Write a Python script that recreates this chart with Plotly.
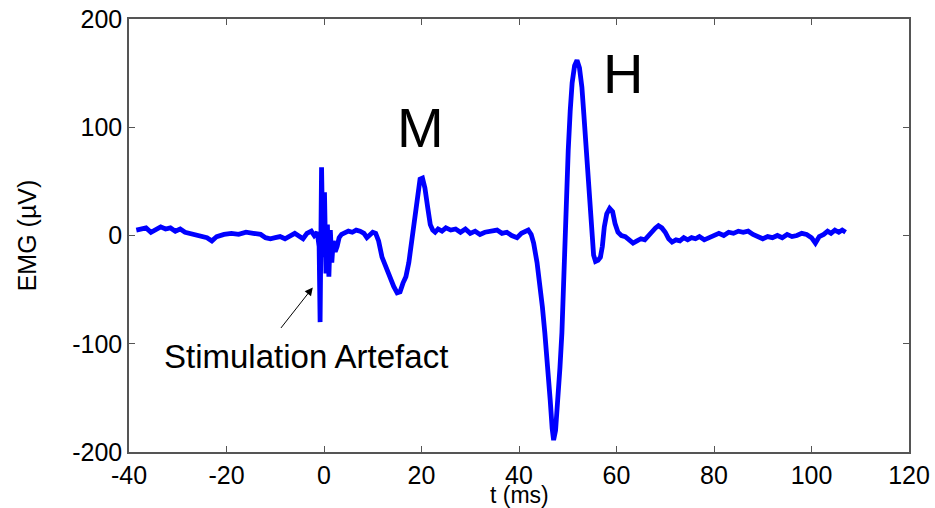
import plotly.graph_objects as go

# EMG trace (t in ms, EMG in microvolts)
t_ms = [-38.5, -37.5, -36.5, -35.5, -34.5, -33.5, -32.5, -31.5, -30.5, -29.5,
        -28.5, -27, -25.5, -24, -23, -22, -20.5, -19, -17.5, -16,
        -14.5, -13, -12, -11, -10, -9, -8, -7, -6, -5,
        -4.3, -3.5, -2.6, -2, -1.4, -1.0, -0.8, -0.5, -0.2, 0.1,
        0.4, 0.7, 1.0, 1.3, 1.6, 1.9, 2.3, 2.7, 3.1, 3.6,
        4.2, 5.0, 5.8, 6.6, 7.4, 8.2, 8.8, 9.4, 10.0, 10.6,
        11.2, 11.9, 12.7, 13.5, 14.3, 15.0, 15.6, 16.2, 16.8, 17.4,
        18.0, 18.6, 19.2, 19.7, 20.2, 20.7, 21.3, 21.8, 22.3, 22.8,
        23.4, 24.2, 25.0, 26, 27, 28, 29, 30, 31, 32,
        33, 34, 35.5, 36.5, 37.5, 38.5, 39.6, 40.5, 41.3, 41.9,
        42.5, 43.0, 43.7, 44.3, 44.8, 45.3, 45.9, 46.4, 46.8, 47.1,
        47.5, 48.0, 48.4, 48.8, 49.1, 49.4, 49.8, 50.1, 50.5, 50.9,
        51.4, 51.9, 52.4, 52.9, 53.3, 53.6, 54.0, 54.3, 54.7, 55.0,
        55.3, 55.7, 56.2, 56.7, 57.1, 57.5, 58.0, 58.6, 59.2, 59.7,
        60.3, 61.0, 61.8, 62.6, 63.4, 64.2, 65.0, 65.8, 66.5, 67.2,
        68.0, 68.6, 69.3, 70.0, 70.7, 71.4, 72.2, 73.0, 73.8, 74.6,
        75.4, 76.2, 77.0, 78.0, 79.0, 80.0, 81.0, 82.0, 83.0, 84.0,
        85.0, 86.0, 87.0, 88.0, 89.0, 90.0, 91.0, 92.0, 93.0, 94.0,
        95.0, 96.0, 97.0, 98.0, 99.0, 100.0, 100.8, 101.6, 102.5, 103.3,
        104.0, 104.8, 105.6, 106.3, 107.0]

emg_uv = [5, 6, 7, 3, 5, 8, 6, 7, 4, 6,
          3, 1, -1, -2, -5, -1, 1, 2, 1, 3,
          2, 1, -2, -3, -2, -1, -3, 0, 2, -1,
          -3, 2, 4, 0, 3, -10, -80, 63, -20, 40,
          -35, 10, -38, 5, -25, -5, -15, -10, -2, 1,
          2, 4, 3, 5, 4, 2, -2, 1, 3, 2,
          -5, -20, -30, -39, -47, -53, -52, -44, -38, -25,
          -5, 18, 40, 52, 53, 44, 25, 10, 5, 3,
          6, 4, 7, 5, 6, 3, 6, 2, 4, 1,
          3, 4, 5, 2, 3, 0, -2, 2, 4, 5,
          1, -7, -25, -44, -66, -90, -120, -152, -178, -189,
          -180, -152, -122, -90, -45, 2, 45, 79, 115, 141,
          157, 162, 155, 137, 112, 92, 65, 44, 15, -2,
          -18, -24, -23, -20, -10, 8, 20, 25, 22, 11,
          3, 0, -1, -4, -7, -5, -3, -4, 0, 4,
          7, 9, 7, 3, -3, -6, -4, -5, -2, -4,
          -2, -3, -1, -4, -2, 1, 2, 0, 3, 2,
          4, 3, 4, 1, -1, -3, -1, -2, 0, -2,
          1, -1, 0, 2, 1, -2, -7, -1, 1, 4,
          2, 5, 3, 5, 3]

x_ticks = [-40, -20, 0, 20, 40, 60, 80, 100, 120]
x_labels = ["-40", "-20", "0", "20", "40", "60", "80", "100", "120"]
y_ticks = [-200, -100, 0, 100, 200]
y_labels = ["-200", "-100", "0", "100", "200"]

fig = go.Figure()
fig.add_trace(go.Scatter(x=t_ms, y=emg_uv, mode="lines",
                         line=dict(color="#0000ff", width=4.8)))

axis_style = dict(showline=True, linecolor="#555555", linewidth=1.5, mirror="allticks",
                  ticks="inside", ticklen=6, tickcolor="#555555", showgrid=False,
                  zeroline=False, automargin=False,
                  tickfont=dict(family="Arial", size=25, color="black"))

fig.update_xaxes(range=[-40, 120], tickvals=x_ticks, ticktext=x_labels, **axis_style)
fig.update_yaxes(range=[-200, 200], tickvals=y_ticks, ticktext=y_labels, **axis_style)

fig.add_annotation(text="t (ms)", x=0.5, y=-0.1, xref="paper", yref="paper",
                   xanchor="center", yanchor="middle",
                   showarrow=False, font=dict(family="Arial", size=23, color="black"))
fig.add_annotation(text="EMG (µV)", x=-0.131, y=0.5, xref="paper", yref="paper",
                   xanchor="center", yanchor="middle",
                   textangle=-90, showarrow=False, font=dict(family="Arial", size=25, color="black"))

fig.add_annotation(text="M", x=19.7, y=100, showarrow=False,
                   font=dict(family="Arial", size=56, color="black"))
fig.add_annotation(text="H", x=61.3, y=150, showarrow=False,
                   font=dict(family="Arial", size=56, color="black"))
fig.add_annotation(text="Stimulation Artefact", x=-3.7, y=-112, showarrow=False,
                   font=dict(family="Arial", size=33, color="black"))
fig.add_annotation(text="", x=-2.3, y=-48, ax=-33, ay=42, showarrow=True,
                   arrowhead=2, arrowsize=1.6, arrowwidth=1, arrowcolor="black")

fig.update_layout(width=935, height=508, margin=dict(l=129, r=26, t=19, b=56),
                  plot_bgcolor="white", paper_bgcolor="white", showlegend=False)

# drop the browser's default body margin so the figure sits at the top-left
fig.write_html("out.html", config={"displayModeBar": False},
               post_script="document.body.style.margin='0';")
